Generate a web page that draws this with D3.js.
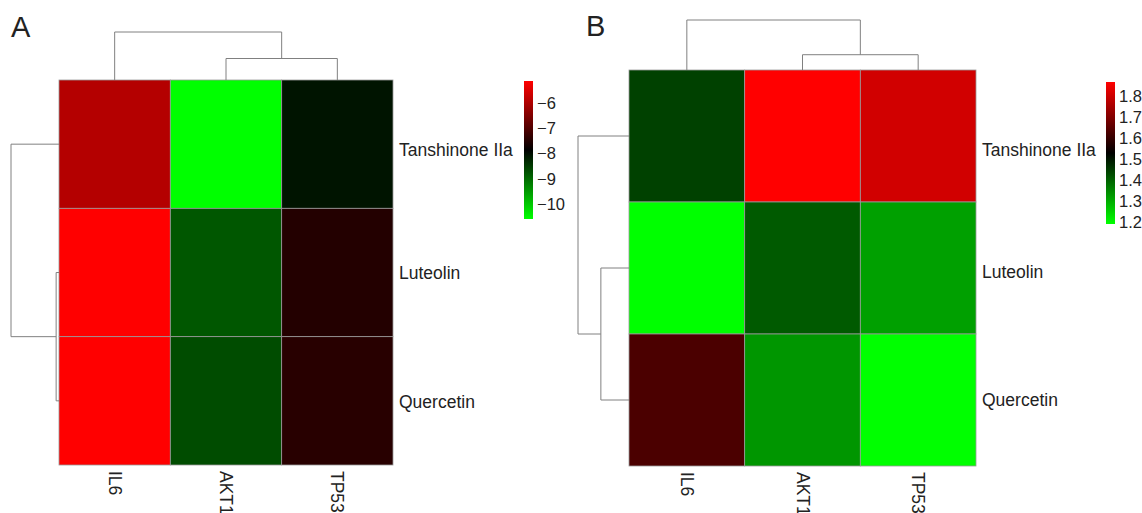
<!DOCTYPE html>
<html>
<head>
<meta charset="utf-8">
<script src="https://cdn.jsdelivr.net/npm/d3@7"></script>
<style>
  body { margin: 0; background: #fff; }
  svg { display: block; font-family: "Liberation Sans", Arial, sans-serif; }
</style>
</head>
<body>
<svg width="1142" height="513"></svg>
<script>
// rows and columns shared by both heatmaps
const rowNames = ["Tanshinone IIa", "Luteolin", "Quercetin"]
const colNames = ["IL6", "AKT1", "TP53"]

// panel A values (rows x columns)
const valuesA = [
    [-5.93, -10.6, -8.08],
    [-5.13, -8.80, -7.49],
    [-5.13, -8.68, -7.44]
]
const legendTicksA = [-6, -7, -8, -9, -10]

// panel B values (rows x columns)
const valuesB = [
    [1.442, 1.866, 1.805],
    [1.19, 1.409, 1.316],
    [1.627, 1.329, 1.19]
]
const legendTicksB = [1.8, 1.7, 1.6, 1.5, 1.4, 1.3, 1.2]

const svg = d3.select("svg")

// complete linkage clustering, leaf order is kept as given
function cluster(vectors) {
    let nodes = vectors.map((v, i) => ({ leaves: [i], height: 0, index: i }))
    const dist = (a, b) => Math.sqrt(d3.sum(vectors[a], (d, k) => (d - vectors[b][k]) ** 2))
    while (nodes.length > 1) {
        let best = null
        for (let i = 0; i < nodes.length; i++) {
            for (let j = i + 1; j < nodes.length; j++) {
                let d = 0
                nodes[i].leaves.forEach(a => nodes[j].leaves.forEach(b => { d = Math.max(d, dist(a, b)) }))
                if (!best || d < best.d) best = { i: i, j: j, d: d }
            }
        }
        const merged = {
            leaves: nodes[best.i].leaves.concat(nodes[best.j].leaves),
            height: best.d,
            children: [nodes[best.i], nodes[best.j]]
        }
        nodes = nodes.filter((n, k) => k !== best.i && k !== best.j)
        nodes.push(merged)
    }
    return nodes[0]
}

function drawDendrogram(g, root, posScale, hScale, vertical) {
    // vertical = tree above the columns, otherwise tree left of rows
    function pos(n) {
        if (!n.children) return posScale(n.index)
        return (pos(n.children[0]) + pos(n.children[1])) / 2
    }
    function walk(n) {
        if (!n.children) return
        const p0 = pos(n.children[0]), p1 = pos(n.children[1])
        const h0 = hScale(n.children[0].height), h1 = hScale(n.children[1].height), h = hScale(n.height)
        const pts = [[p0, h0], [p0, h], [p1, h], [p1, h1]]
        g.append("path")
            .attr("d", d3.line()(vertical ? pts : pts.map(d => [d[1], d[0]])))
            .attr("fill", "none")
            .attr("stroke", "#808080")
            .attr("stroke-width", 1)
        n.children.forEach(walk)
    }
    walk(root)
}

function heatmap(cfg) {
    const values = cfg.values
    const flat = values.flat()
    const [vMin, vMax] = d3.extent(flat)
    const color = d3.scaleLinear()
        .domain([vMin, (vMin + vMax) / 2, vMax])
        .range(["#00ff00", "#000000", "#ff0000"])

    const x = d3.scaleBand().domain(d3.range(colNames.length)).range([cfg.left, cfg.right])
    const y = d3.scaleBand().domain(d3.range(rowNames.length)).range([cfg.top, cfg.bottom])

    const g = svg.append("g")

    const cells = []
    values.forEach((row, r) => row.forEach((v, c) => cells.push({ r: r, c: c, v: v })))
    g.selectAll(".cell")
        .data(cells)
        .enter()
        .append("rect")
        .attr("x", d => x(d.c))
        .attr("y", d => y(d.r))
        .attr("width", x.bandwidth())
        .attr("height", y.bandwidth())
        .attr("fill", d => color(d.v))
        .attr("stroke", "#9a9a9a")
        .attr("stroke-width", 0.8)

    // dendrograms
    const colVectors = colNames.map((n, c) => values.map(row => row[c]))
    const colTree = cluster(colVectors)
    const colH = d3.scaleLinear().domain([0, colTree.height]).range([cfg.top, cfg.colTreeTop])
    drawDendrogram(g, colTree, i => x(i) + x.bandwidth() / 2, colH, true)

    const rowTree = cluster(values)
    const rowH = d3.scaleLinear().domain([0, rowTree.height]).range([cfg.left, cfg.rowTreeLeft])
    drawDendrogram(g, rowTree, i => y(i) + y.bandwidth() / 2, rowH, false)

    // row labels
    g.selectAll(".rowLabel")
        .data(rowNames)
        .enter()
        .append("text")
        .attr("x", cfg.right + 6)
        .attr("y", (d, i) => y(i) + y.bandwidth() / 2 + cfg.rowNudge[i])
        .attr("dominant-baseline", "central")
        .attr("font-size", 17.5)
        .attr("fill", "#222")
        .text(d => d)

    // column labels, rotated
    g.selectAll(".colLabel")
        .data(colNames)
        .enter()
        .append("text")
        .attr("transform", (d, i) => "translate(" + (x(i) + x.bandwidth() / 2) + "," + (cfg.bottom + 6) + ") rotate(90)")
        .attr("dominant-baseline", "central")
        .attr("font-size", 17.5)
        .attr("fill", "#222")
        .text(d => d)

    // colour legend
    const gradId = "grad" + cfg.letter
    const grad = svg.append("defs").append("linearGradient")
        .attr("id", gradId)
        .attr("x1", 0).attr("y1", 0).attr("x2", 0).attr("y2", 1)
    d3.range(0, 1.0001, 0.05).forEach(t => {
        grad.append("stop")
            .attr("offset", t)
            .attr("stop-color", color(vMax - t * (vMax - vMin)))
    })
    const ly = d3.scaleLinear().domain([vMax, vMin]).range([cfg.legendTop, cfg.legendBottom])
    g.append("rect")
        .attr("x", cfg.legendX)
        .attr("y", cfg.legendTop)
        .attr("width", 9)
        .attr("height", cfg.legendBottom - cfg.legendTop)
        .attr("fill", "url(#" + gradId + ")")
    g.selectAll(".legendLabel")
        .data(cfg.ticks)
        .enter()
        .append("text")
        .attr("x", cfg.legendX + 13)
        .attr("y", d => ly(d))
        .attr("dominant-baseline", "central")
        .attr("font-size", 16.5)
        .attr("fill", "#222")
        .text(cfg.format)

    // panel letter
    svg.append("text")
        .attr("x", cfg.letterX)
        .attr("y", cfg.letterY)
        .attr("font-size", 29)
        .attr("fill", "#222")
        .text(cfg.letter)
}

heatmap({
    letter: "A", letterX: 11, letterY: 37,
    values: valuesA,
    left: 59, right: 393, top: 80, bottom: 465,
    colTreeTop: 32, rowTreeLeft: 11,
    rowNudge: [6, 0, 1],
    legendX: 524, legendTop: 81, legendBottom: 219,
    ticks: legendTicksA, format: d3.format("d")
})

heatmap({
    letter: "B", letterX: 586, letterY: 36,
    values: valuesB,
    left: 629, right: 976, top: 70, bottom: 466,
    colTreeTop: 20, rowTreeLeft: 578,
    rowNudge: [14, 4, 0],
    legendX: 1106, legendTop: 82, legendBottom: 224,
    ticks: legendTicksB, format: d3.format(".1f")
})
</script>
</body>
</html>
